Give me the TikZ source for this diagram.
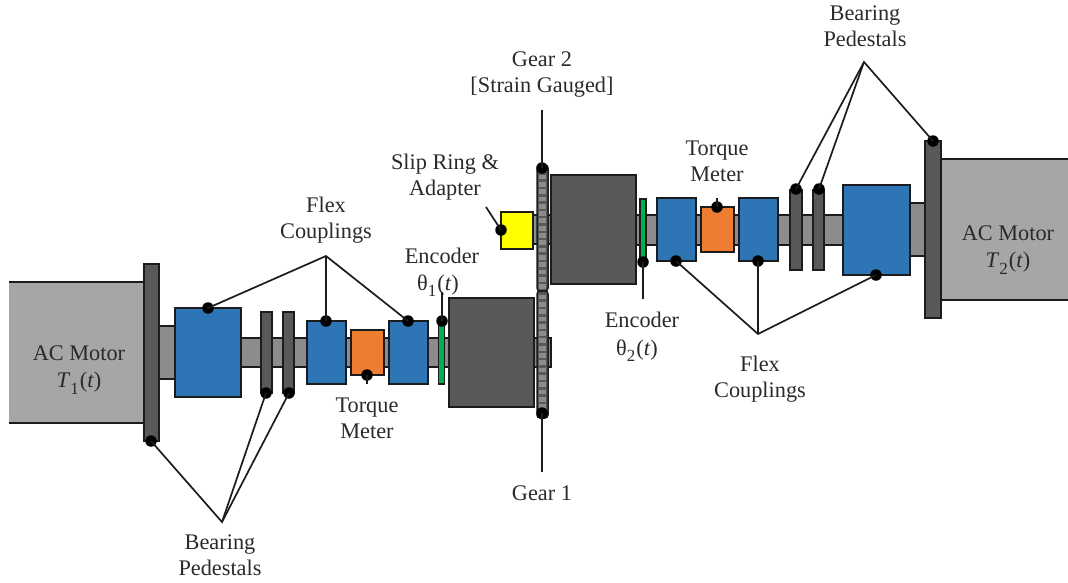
\documentclass[tikz,border=0pt]{standalone}
\usepackage{fontspec}
\setmainfont{Liberation Serif}
\usetikzlibrary{calc}
\definecolor{motorgray}{HTML}{A6A6A6}
\definecolor{darkgray}{HTML}{595959}
\definecolor{shaftgray}{HTML}{8C8C8C}
\definecolor{bluebox}{HTML}{2E75B6}
\definecolor{orangebox}{HTML}{ED7D31}
\definecolor{greenbar}{HTML}{00B050}
\definecolor{yellowbox}{HTML}{FFFF00}
\definecolor{ink}{HTML}{1C1C1C}
\definecolor{textink}{HTML}{2A2A2A}
\tikzset{
  part/.style={draw=ink,line width=1.5pt,inner sep=0pt,outer sep=0pt},
  motorpart/.style={fill=motorgray,inner sep=0pt,outer sep=0pt},
  darkpart/.style={part,fill=darkgray},
  shaftpart/.style={part,fill=shaftgray},
  bluepart/.style={part,fill=bluebox},
  orangepart/.style={part,fill=orangebox},
  greenpart/.style={part,fill=greenbar,line width=1.2pt},
  yellowpart/.style={part,fill=yellowbox},
  gearpart/.style={part,fill=darkgray,rounded corners=3pt},
  tooth/.style={fill=shaftgray,draw=none,inner sep=0pt,minimum width=7.6pt,minimum height=4.8pt},
  pin/.style={circle,fill=black,draw=none,inner sep=0pt,outer sep=0pt,minimum size=11.5pt},
  leader/.style={draw=ink,line width=1.7pt},
  edge line/.style={draw=ink,line width=1.5pt},
  lab/.style={font=\fontsize{22.3}{26}\selectfont,text=textink,align=center,inner sep=0pt}
}
% \partbox{name}{x1}{y1}{x2}{y2}{style}
\newcommand{\partbox}[6]{%
  \pgfmathsetlengthmacro{\bw}{(#4-#2)*1pt}%
  \pgfmathsetlengthmacro{\bh}{(#5-#3)*1pt}%
  \node[#6,minimum width=\bw,minimum height=\bh] (#1) at ({(#2+#4)/2},{(#3+#5)/2}) {};%
}
\newcommand{\pinat}[3]{\node[pin] (#1) at (#2,#3) {};}
\newcommand{\lowsub}[1]{\raisebox{-0.28em}{\fontsize{17}{17}\selectfont #1}\kern1pt}
\begin{document}
\begin{tikzpicture}[x=1pt,y=-1pt]
\useasboundingbox (0,0) rectangle (1068,582);
% lower train shafts
\partbox{shaftA}{159}{326}{175}{379}{shaftpart}
\partbox{shaftB}{241}{338}{449}{367}{shaftpart}
\partbox{shaftC}{534}{338}{551}{367}{shaftpart}
% upper train shafts
\partbox{shaftD}{533}{215}{551}{244}{shaftpart}
\partbox{shaftE}{636}{215}{843}{245}{shaftpart}
\partbox{shaftF}{910}{203}{925}{256}{shaftpart}
% lower train
\partbox{motorL}{9}{282}{144}{423}{motorpart}
\draw[edge line] (motorL.north west) -- (motorL.north east);
\draw[edge line] (motorL.south west) -- (motorL.south east);
\partbox{pedL}{144}{264}{159}{441}{darkpart}
\partbox{bigL}{175}{308}{241}{397}{bluepart}
\partbox{pedLa}{261}{312}{272}{393}{darkpart}
\partbox{pedLb}{283}{312}{294}{393}{darkpart}
\partbox{flexLa}{307}{321}{346}{384}{bluepart}
\partbox{torqueL}{351}{330}{384}{375}{orangepart}
\partbox{flexLb}{389}{321}{428}{384}{bluepart}
\partbox{encL}{438.5}{321}{444.5}{384}{greenpart}
\partbox{massL}{449}{298}{534}{407}{darkpart}
% upper train
\partbox{slip}{501}{212}{533}{249}{yellowpart}
\partbox{massR}{551}{175}{636}{284}{darkpart}
\partbox{encR}{640}{199}{646}{262}{greenpart}
\partbox{flexRa}{657}{198}{696}{261}{bluepart}
\partbox{torqueR}{701}{207}{734}{252}{orangepart}
\partbox{flexRb}{739}{198}{778}{261}{bluepart}
\partbox{pedRa}{790}{190}{802}{270}{darkpart}
\partbox{pedRb}{813}{190}{824}{270}{darkpart}
\partbox{bigR}{843}{185}{910}{275}{bluepart}
\partbox{motorR}{941}{159}{1072}{300}{motorpart}
\draw[edge line] (motorR.north west) -- (motorR.north east);
\draw[edge line] (motorR.south west) -- (motorR.south east);
\partbox{pedR}{925}{141}{941}{318}{darkpart}
% gears
\partbox{gearTwo}{537}{165}{548}{291}{gearpart}
\partbox{gearOne}{537}{291}{548}{418}{gearpart}
\foreach \k in {0,...,15} {\node[tooth] at (542.5,{177+7.3*\k}) {};}
\foreach \k in {0,...,15} {\node[tooth] at (542.5,{297+7.3*\k}) {};}
% pins
\pinat{p1}{208}{308}
\pinat{p2}{326}{321}
\pinat{p3}{408}{321}
\pinat{p4}{442}{321}
\pinat{p5}{367}{375}
\pinat{p6}{151}{441}
\pinat{p7}{266}{393}
\pinat{p8}{289}{393}
\pinat{p9}{542}{168}
\pinat{p10}{542}{413}
\pinat{p11}{501}{230}
\pinat{p12}{643}{262}
\pinat{p13}{676}{261}
\pinat{p14}{758}{261}
\pinat{p15}{876}{275}
\pinat{p16}{717}{207}
\pinat{p17}{796}{189}
\pinat{p18}{819}{189}
\pinat{p19}{933}{141}
% free ends
\coordinate (apexFL) at (326,256);
\coordinate (apexBL) at (222,522);
\coordinate (apexFR) at (758,334);
\coordinate (apexBR) at (864,62);
\coordinate (gearTop) at (542,110);
\coordinate (gearBot) at (542,472);
\coordinate (encLend) at (442,292);
\coordinate (encRend) at (643,299);
\coordinate (slipEnd) at (486,207);
\coordinate (tqLend) at (367,384);
\coordinate (tqRend) at (717,198);
% leaders
\draw[leader] (p1.center) -- (apexFL) -- (p3.center);
\draw[leader] (apexFL) -- (p2.center);
\draw[leader] (p6.center) -- (apexBL) -- (p7.center);
\draw[leader] (apexBL) -- (p8.center);
\draw[leader] (p13.center) -- (apexFR) -- (p15.center);
\draw[leader] (apexFR) -- (p14.center);
\draw[leader] (p17.center) -- (apexBR) -- (p19.center);
\draw[leader] (apexBR) -- (p18.center);
\draw[leader] (gearTop) -- (p9.center);
\draw[leader] (gearBot) -- (p10.center);
\draw[leader] (encLend) -- (p4.center);
\draw[leader] (encRend) -- (p12.center);
\draw[leader] (slipEnd) -- (p11.center);
\draw[leader] (tqLend) -- (p5.center);
\draw[leader] (tqRend) -- (p16.center);
% labels
\node[lab] (tGearTwo) at (542,75) {Gear 2\\{}[Strain Gauged]};
\node[lab] (tSlip) at (445,177) {Slip Ring \&\\Adapter};
\node[lab] (tFlexL) at (326,220) {Flex\\Couplings};
\node[lab] (tEncL) at (442,256) {Encoder};
\node[lab] (tThL) at (438,286) {θ\lowsub{1}(\textit{t})};
\node[lab] (tTqL) at (367,418) {Torque\\Meter};
\node[lab] (tGearOne) at (542,493) {Gear 1};
\node[lab] (tBearL) at (220,555) {Bearing\\Pedestals};
\node[lab] (tEncR) at (642,320) {Encoder};
\node[lab] (tThR) at (637,351) {θ\lowsub{2}(\textit{t})};
\node[lab] (tFlexR) at (760,379) {Flex\\Couplings};
\node[lab] (tTqR) at (717,161) {Torque\\Meter};
\node[lab] (tBearR) at (865,26) {Bearing\\Pedestals};
\node[lab,text depth=0pt] (tMotL) at (79,367) {AC Motor\\[1pt]\textit{T}\lowsub{1}(\textit{t})};
\node[lab,text depth=0pt] (tMotR) at (1008,247) {AC Motor\\[1pt]\textit{T}\lowsub{2}(\textit{t})};
\end{tikzpicture}
\end{document}
